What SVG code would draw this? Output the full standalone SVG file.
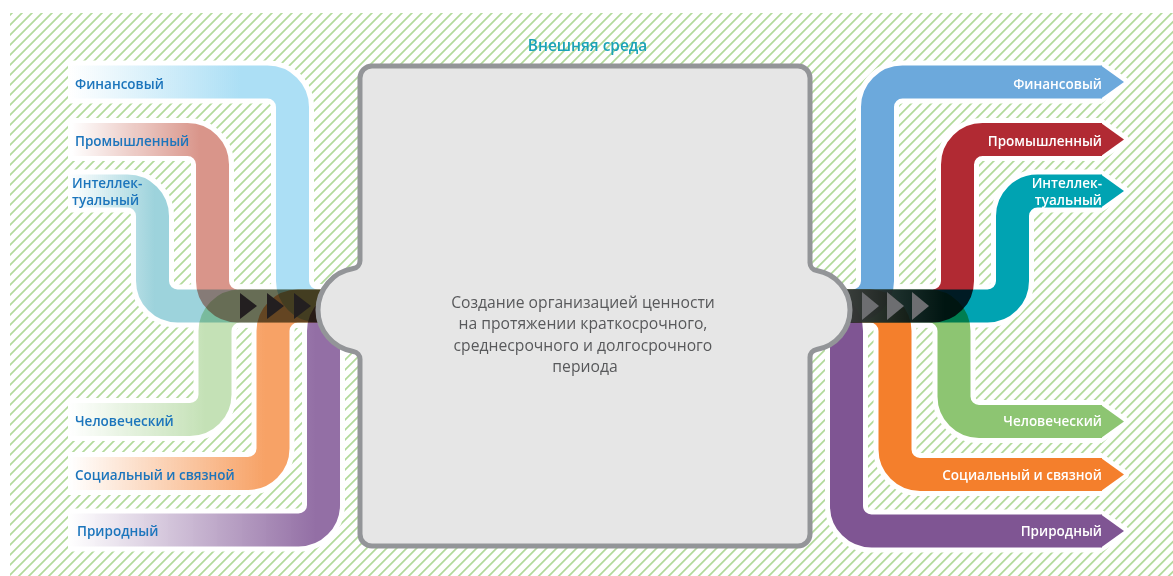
<svg xmlns="http://www.w3.org/2000/svg" width="1173" height="576" viewBox="0 0 1173 576">
<defs>
<pattern id="hatch" width="7.07" height="7.07" patternUnits="userSpaceOnUse" patternTransform="rotate(45)">
<line x1="3.5" y1="-1" x2="3.5" y2="8.1" stroke="#b2da9b" stroke-width="1.8"/>
</pattern>
<linearGradient id="gBlue" gradientUnits="userSpaceOnUse" x1="70" y1="0" x2="240" y2="0"><stop offset="0" stop-color="#acdff5" stop-opacity="0"/><stop offset="1" stop-color="#acdff5"/></linearGradient>
<linearGradient id="gRed" gradientUnits="userSpaceOnUse" x1="72" y1="0" x2="200" y2="0"><stop offset="0" stop-color="#d9958a" stop-opacity="0"/><stop offset="1" stop-color="#d9958a"/></linearGradient>
<linearGradient id="gTeal" gradientUnits="userSpaceOnUse" x1="70" y1="0" x2="155" y2="0"><stop offset="0" stop-color="#9dd3dc" stop-opacity="0"/><stop offset="1" stop-color="#9dd3dc"/></linearGradient>
<linearGradient id="gGreen" gradientUnits="userSpaceOnUse" x1="70" y1="0" x2="205" y2="0"><stop offset="0" stop-color="#c4e1b6" stop-opacity="0"/><stop offset="1" stop-color="#c4e1b6"/></linearGradient>
<linearGradient id="gOrange" gradientUnits="userSpaceOnUse" x1="70" y1="0" x2="265" y2="0"><stop offset="0" stop-color="#f7a266" stop-opacity="0"/><stop offset="1" stop-color="#f7a266"/></linearGradient>
<linearGradient id="gPurple" gradientUnits="userSpaceOnUse" x1="70" y1="0" x2="315" y2="0"><stop offset="0" stop-color="#936fa5" stop-opacity="0"/><stop offset="1" stop-color="#936fa5"/></linearGradient>
<linearGradient id="gLift" gradientUnits="userSpaceOnUse" x1="848" y1="0" x2="945" y2="0"><stop offset="0" stop-color="#fff" stop-opacity="0.22"/><stop offset="1" stop-color="#fff" stop-opacity="0"/></linearGradient>
</defs>
<style>
.halo{fill:none;stroke:#fff;stroke-width:43}
.band{fill:none;stroke-width:33;mix-blend-mode:multiply}
.ahalo{fill:#fff;stroke:#fff;stroke-width:10;stroke-linejoin:round}
.lbl{font-family:"Open Sans","Noto Sans",sans-serif;font-size:13.5px;font-weight:600}
.ll{fill:#1c75bc}
.rl{fill:#fff;text-anchor:end}
.tri-l{fill:#231f20}
.tri-r{fill:#6d6e71}
</style>
<rect x="0" y="0" width="1173" height="576" fill="#fff"/>
<rect x="10" y="13" width="1163" height="563" fill="url(#hatch)"/>
<g id="connectors">
<g id="halos">
<path class="halo" d="M68,82 H267.5 A25,25 0 0 1 292.5,107 V281 A25,25 0 0 0 317.5,306 H345"/>
<path class="halo" d="M68,139.5 H187.5 A25,25 0 0 1 212.5,164.5 V281 A25,25 0 0 0 237.5,306 H345"/>
<path class="halo" d="M68,191 H127.5 A25,25 0 0 1 152.5,216 V281 A25,25 0 0 0 177.5,306 H345"/>
<path class="halo" d="M68,419.5 H190 A25,25 0 0 0 215,394.5 V331 A25,25 0 0 1 240,306 H345"/>
<path class="halo" d="M68,473.5 H248 A25,25 0 0 0 273,448.5 V331 A25,25 0 0 1 298,306 H345"/>
<path class="halo" d="M68,530 H298.5 A25,25 0 0 0 323.5,505 V331 A25,25 0 0 1 348.5,306 H360"/>
<path class="halo" d="M825,306 H852.5 A25,25 0 0 0 877.5,281 V107 A25,25 0 0 1 902.5,82 H1102"/>
<path class="halo" d="M825,306 H932.5 A25,25 0 0 0 957.5,281 V164.5 A25,25 0 0 1 982.5,139.5 H1102"/>
<path class="halo" d="M825,306 H987.5 A25,25 0 0 0 1012.5,281 V216 A25,25 0 0 1 1037.5,191 H1102"/>
<path class="halo" d="M825,306 H929 A25,25 0 0 1 954,331 V396.5 A25,25 0 0 0 979,421.5 H1102"/>
<path class="halo" d="M825,306 H870 A25,25 0 0 1 895,331 V449.5 A25,25 0 0 0 920,474.5 H1102"/>
<path class="halo" d="M815,306 H821.5 A25,25 0 0 1 846.5,331 V506 A25,25 0 0 0 871.5,531 H1102"/>
<polygon class="ahalo" points="1100,65.5 1124,82 1100,98.5"/>
<polygon class="ahalo" points="1100,123 1124,139.5 1100,156"/>
<polygon class="ahalo" points="1100,174.5 1124,191 1100,207.5"/>
<polygon class="ahalo" points="1100,405 1124,421.5 1100,438"/>
<polygon class="ahalo" points="1100,458 1124,474.5 1100,491"/>
<polygon class="ahalo" points="1100,514.5 1124,531 1100,547.5"/>
</g>
<g id="bands-left">
<path class="band" stroke="url(#gBlue)" d="M68,82 H267.5 A25,25 0 0 1 292.5,107 V281 A25,25 0 0 0 317.5,306 H345"/>
<path class="band" stroke="url(#gRed)" d="M68,139.5 H187.5 A25,25 0 0 1 212.5,164.5 V281 A25,25 0 0 0 237.5,306 H345"/>
<path class="band" stroke="url(#gTeal)" d="M68,191 H127.5 A25,25 0 0 1 152.5,216 V281 A25,25 0 0 0 177.5,306 H345"/>
<path class="band" stroke="url(#gGreen)" d="M68,419.5 H190 A25,25 0 0 0 215,394.5 V331 A25,25 0 0 1 240,306 H345"/>
<path class="band" stroke="url(#gOrange)" d="M68,473.5 H248 A25,25 0 0 0 273,448.5 V331 A25,25 0 0 1 298,306 H345"/>
<path class="band" stroke="url(#gPurple)" d="M68,530 H298.5 A25,25 0 0 0 323.5,505 V331 A25,25 0 0 1 348.5,306 H360"/>
</g>
<g id="bands-right">
<path class="band" stroke="#6ca9dc" d="M825,306 H852.5 A25,25 0 0 0 877.5,281 V107 A25,25 0 0 1 902.5,82 H1102"/>
<path class="band" stroke="#b12a33" d="M825,306 H932.5 A25,25 0 0 0 957.5,281 V164.5 A25,25 0 0 1 982.5,139.5 H1102"/>
<path class="band" stroke="#00a3b2" d="M825,306 H987.5 A25,25 0 0 0 1012.5,281 V216 A25,25 0 0 1 1037.5,191 H1102"/>
<path class="band" stroke="#8dc572" d="M825,306 H929 A25,25 0 0 1 954,331 V396.5 A25,25 0 0 0 979,421.5 H1102"/>
<path class="band" stroke="#f47f2c" d="M825,306 H870 A25,25 0 0 1 895,331 V449.5 A25,25 0 0 0 920,474.5 H1102"/>
<path class="band" stroke="#7f5593" d="M815,306 H821.5 A25,25 0 0 1 846.5,331 V506 A25,25 0 0 0 871.5,531 H1102"/>
<polygon fill="#6ca9dc" points="1101,65.5 1124,82 1101,98.5"/>
<polygon fill="#b12a33" points="1101,123 1124,139.5 1101,156"/>
<polygon fill="#00a3b2" points="1101,174.5 1124,191 1101,207.5"/>
<polygon fill="#8dc572" points="1101,405 1124,421.5 1101,438"/>
<polygon fill="#f47f2c" points="1101,458 1124,474.5 1101,491"/>
<polygon fill="#7f5593" points="1101,514.5 1124,531 1101,547.5"/>
<rect x="848" y="289.5" width="97" height="33" fill="url(#gLift)"/>
</g>
<g id="chevrons">
<polygon class="tri-l" points="240,293 257,306 240,319"/>
<polygon class="tri-l" points="267,293 284,306 267,319"/>
<polygon class="tri-l" points="294,293 311,306 294,319"/>
<polygon class="tri-r" points="862,292 879,306 862,320"/>
<polygon class="tri-r" points="887,292 904,306 887,320"/>
<polygon class="tri-r" points="912,292 929,306 912,320"/>
</g>
</g>
<g id="center-box">
<path fill="#e6e6e6" stroke="#939598" stroke-width="5" d="M372,66 H798 A12,12 0 0 1 810,78 V262.67 A8,8 0 0 0 816.67,270.56 A40,40 0 0 1 816.67,349.44 A8,8 0 0 0 810,357.33 V534 A12,12 0 0 1 798,546 H372 A12,12 0 0 1 360,534 V359.36 A8,8 0 0 0 353.28,351.46 A42,42 0 0 1 353.28,268.54 A8,8 0 0 0 360,260.64 V78 A12,12 0 0 1 372,66 Z"/>
<text font-family="Open Sans, Noto Sans, sans-serif" font-size="15.7" fill="#58595b" text-anchor="middle">
<tspan x="585" y="307.5">Создание организацией ценности</tspan>
<tspan x="585" y="329">на протяжении краткосрочного,</tspan>
<tspan x="585" y="350.5">среднесрочного и долгосрочного</tspan>
<tspan x="585" y="371.5">периода</tspan>
</text>
</g>
<g id="title"><text x="587.5" y="51" font-family="Open Sans, Noto Sans, sans-serif" font-size="15.4" font-weight="600" fill="#1ba3b6" text-anchor="middle">Внешняя среда</text></g>
<g id="in-financial"><text class="lbl ll" x="75" y="88.5">Финансовый</text></g>
<g id="in-manufactured"><text class="lbl ll" x="75" y="145.5">Промышленный</text></g>
<g id="in-intellectual"><text class="lbl ll" x="72" y="187.5">Интеллек-</text><text class="lbl ll" x="72" y="204.5">туальный</text></g>
<g id="in-human"><text class="lbl ll" x="75" y="426">Человеческий</text></g>
<g id="in-social"><text class="lbl ll" x="75" y="479.5">Социальный и связной</text></g>
<g id="in-natural"><text class="lbl ll" x="77" y="535.5">Природный</text></g>
<g id="out-financial"><text class="lbl rl" x="1102" y="88.5">Финансовый</text></g>
<g id="out-manufactured"><text class="lbl rl" x="1102" y="145.5">Промышленный</text></g>
<g id="out-intellectual"><text class="lbl rl" x="1102" y="187.5">Интеллек-</text><text class="lbl rl" x="1102" y="204.5">туальный</text></g>
<g id="out-human"><text class="lbl rl" x="1102" y="426">Человеческий</text></g>
<g id="out-social"><text class="lbl rl" x="1102" y="479.5">Социальный и связной</text></g>
<g id="out-natural"><text class="lbl rl" x="1102" y="535.5">Природный</text></g>
</svg>
